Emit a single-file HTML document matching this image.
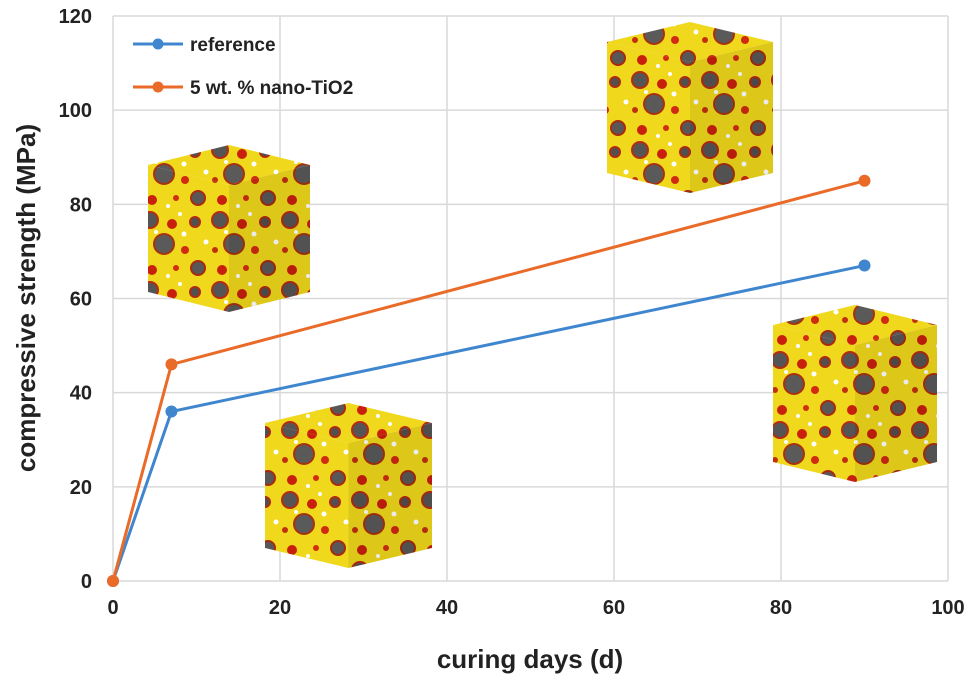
<!DOCTYPE html>
<html><head><meta charset="utf-8"><style>
body{margin:0;background:#fff}
svg text{font-family:"Liberation Sans",Arial,sans-serif;font-weight:bold;fill:#222}
</style></head><body>
<svg id="chart" width="975" height="679" viewBox="0 0 975 679" xmlns="http://www.w3.org/2000/svg">
<defs>
<pattern id="agg" width="70" height="70" patternUnits="userSpaceOnUse">
<rect width="70" height="70" fill="#f0d81c"/>
<circle cx="10" cy="10" r="9" fill="#b52b10"/><circle cx="10" cy="10" r="7" fill="#555"/>
<circle cx="32" cy="14" r="5" fill="#c8200c"/>
<circle cx="24" cy="34" r="11" fill="#a8300e"/><circle cx="24" cy="34" r="9" fill="#5a5a5a"/>
<circle cx="45" cy="40" r="4" fill="#d02a10"/>
<circle cx="5" cy="40" r="3" fill="#c0300c"/>
<circle cx="55" cy="12" r="6" fill="#b02a10"/><circle cx="55" cy="12" r="4" fill="#505050"/>
<circle cx="58" cy="58" r="8" fill="#a82a0e"/><circle cx="58" cy="58" r="6" fill="#585858"/>
<circle cx="12" cy="60" r="5" fill="#c8200c"/>
<circle cx="36" cy="58" r="3" fill="#d22c12"/>
<circle cx="44" cy="24" r="2.5" fill="#fff"/><circle cx="16" cy="22" r="2" fill="#fff"/>
<circle cx="66" cy="32" r="2.5" fill="#fff"/><circle cx="28" cy="66" r="2" fill="#fff"/>
<circle cx="40" cy="4" r="2" fill="#fff"/>
</pattern>
</defs>
<g id="grid"></g>
<g id="cubes"></g>
<g id="axes"></g>
<g id="series"></g>
<g>
<line x1="133" y1="44" x2="183" y2="44" stroke="#3f86cf" stroke-width="3"/><circle cx="158" cy="44" r="5.5" fill="#3f86cf"/>
<text x="190" y="51" font-size="19">reference</text>
<line x1="133" y1="87" x2="183" y2="87" stroke="#ea6a28" stroke-width="3"/><circle cx="158" cy="87" r="5.5" fill="#ea6a28"/>
<text x="190" y="94" font-size="19">5 wt. % nano-TiO2</text>
</g>
<text x="530" y="668" font-size="26" text-anchor="middle">curing days (d)</text>
<text transform="translate(35,298) rotate(-90)" font-size="26" text-anchor="middle">compressive strength (MPa)</text>
</svg>
<script>
const xTicks=[0,20,40,60,80,100];
const yTicks=[0,20,40,60,80,100,120];
const days=[0,7,90];
const refValues=[0,36,67];
const nanoValues=[0,46,85];
const NS="http://www.w3.org/2000/svg";
const X=v=>113+v*(948-113)/100;
const Y=v=>581-v*(581-16)/120;
function mk(tag,attrs,parent){const e=document.createElementNS(NS,tag);for(const k in attrs)e.setAttribute(k,attrs[k]);parent.appendChild(e);return e;}
const grid=document.getElementById('grid'),axes=document.getElementById('axes'),series=document.getElementById('series'),cubes=document.getElementById('cubes');
xTicks.forEach(t=>{
 const l=mk('line',{x1:X(t),x2:X(t),y1:16,y2:581,stroke:'#d9d9d9','stroke-width':1.5},grid);
 
 
 const tx=mk('text',{x:X(t),y:614,'font-size':20,'text-anchor':'middle'},axes);tx.textContent=t;
 
 
});
yTicks.forEach(t=>{
 const l=mk('line',{x1:113,x2:948,y1:Y(t),y2:Y(t),stroke:'#d9d9d9','stroke-width':1.5},grid);
 
 
 const tx=mk('text',{x:92,y:Y(t)+7,'font-size':20,'text-anchor':'end'},axes);tx.textContent=t;
 
 
});
function cube(x,y,w,h,d){
 const g=mk('g',{},cubes);
 
 
 mk('polygon',{points:`${x},${y+d} ${x+w/2},${y} ${x+w},${y+d} ${x+w/2},${y+2*d}`,fill:'url(#agg)'},g);
 mk('polygon',{points:`${x},${y+d} ${x+w/2},${y+2*d} ${x+w/2},${y+h} ${x},${y+h-d}`,fill:'url(#agg)'},g);
 mk('polygon',{points:`${x+w/2},${y+2*d} ${x+w},${y+d} ${x+w},${y+h-d} ${x+w/2},${y+h}`,fill:'url(#agg)'},g);
 mk('polygon',{points:`${x+w/2},${y+2*d} ${x+w},${y+d} ${x+w},${y+h-d} ${x+w/2},${y+h}`,fill:'rgba(0,0,0,0.08)'},g);
}
cube(148,145,162,167,20);
cube(265,403,167,165,20);
cube(607,22,166,171,20);
cube(773,305,164,177,20);
function drawSeries(vals,color,name){
 const pl=mk('polyline',{points:days.map((d,i)=>X(d)+','+Y(vals[i])).join(' '),fill:'none',stroke:color,'stroke-width':3},series);
 
 
 days.forEach((d,i)=>{
  const c=mk('circle',{cx:X(d),cy:Y(vals[i]),r:6,fill:color},series);
  
  
 });
}
drawSeries(refValues,'#3f86cf','reference');
drawSeries(nanoValues,'#ea6a28','nano-tio2');
</script>
</body></html>
